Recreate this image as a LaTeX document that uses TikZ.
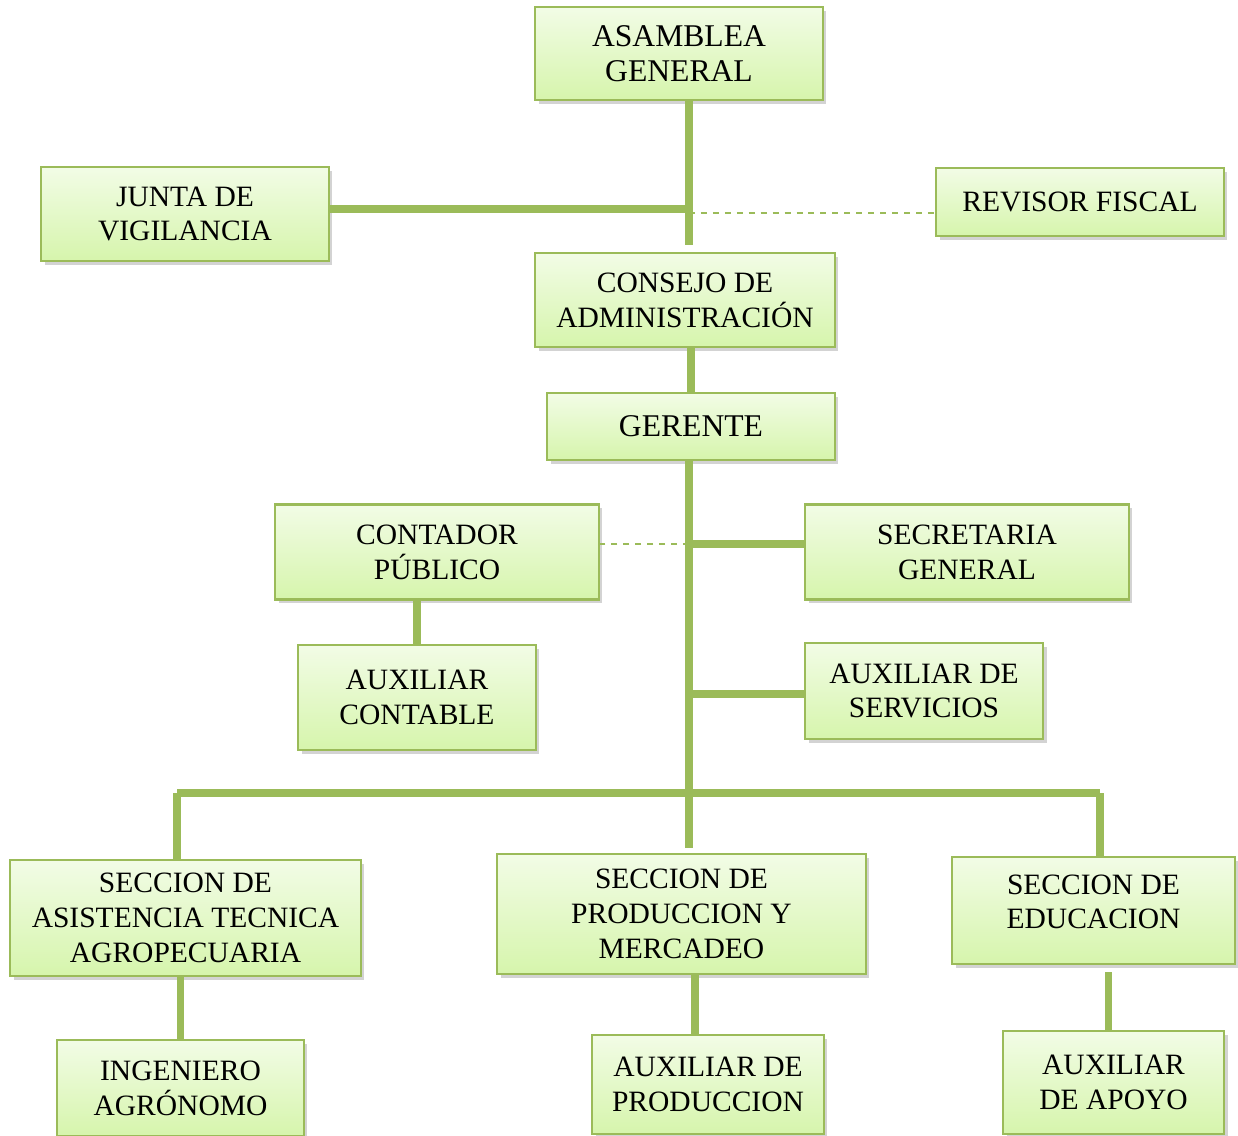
\documentclass[tikz,border=0pt]{standalone}
\usepackage{fontspec}
\setmainfont{Liberation Serif}
\usetikzlibrary{calc,shadows,positioning}
\definecolor{boxtop}{RGB}{242,252,230}
\definecolor{boxbot}{RGB}{214,245,172}
\definecolor{olive}{RGB}{155,187,89}

\begin{document}
\begin{tikzpicture}[
    x=0.02cm, y=-0.02cm,
    box/.style={draw=olive, line width=1.2pt, top color=boxtop, bottom color=boxbot,
        inner sep=0pt, align=center, font=\fontsize{16.8}{19.8}\selectfont,
        drop shadow={shadow xshift=2pt, shadow yshift=-2pt, opacity=0.35}},
    bigtext/.style={font=\fontsize{18}{19.8}\selectfont},
    link/.style={olive, line width=4.5pt},
    dashlink/.style={olive, line width=1pt, dash pattern=on 3.4pt off 3.4pt}
]
    \useasboundingbox (0,0) rectangle (1238,1136);

    % Top level
    \node[box, bigtext, minimum width=5.76cm, minimum height=1.86cm] (asamblea) at (679,53.5) {ASAMBLEA\\GENERAL};
    \node[box, minimum width=5.76cm, minimum height=1.88cm] (junta) at (185,214) {JUNTA DE\\VIGILANCIA};
    \node[box, minimum width=5.76cm, minimum height=1.36cm] (revisor) at (1080,202) {REVISOR FISCAL};
    \node[box, minimum width=6cm, minimum height=1.88cm] (consejo) at (685,300) {CONSEJO DE\\ADMINISTRACIÓN};
    \node[box, bigtext, minimum width=5.76cm, minimum height=1.34cm] (gerente) at (691,426.5) {GERENTE};

    % Staff
    \node[box, minimum width=6.48cm, minimum height=1.9cm] (contador) at (437,552) {CONTADOR\\PÚBLICO};
    \node[box, minimum width=6.48cm, minimum height=1.9cm] (secretaria) at (967,552) {SECRETARIA\\GENERAL};
    \node[box, minimum width=4.76cm, minimum height=2.1cm] (auxcont) at (417,697.5) {AUXILIAR\\CONTABLE};
    \node[box, minimum width=4.76cm, minimum height=1.92cm] (servicios) at (924,691) {AUXILIAR DE\\SERVICIOS};

    % Sections
    \node[box, minimum width=7.02cm, minimum height=2.32cm] (asistencia) at (185.5,918) {SECCION DE\\ASISTENCIA TECNICA\\AGROPECUARIA};
    \node[box, minimum width=7.38cm, minimum height=2.4cm] (produccion) at (681.5,914) {SECCION DE\\PRODUCCION Y\\MERCADEO};
    \node[box, minimum width=5.66cm, minimum height=2.14cm] (educacion) at (1093.5,910.5)
        {SECCION DE\\EDUCACION\rule[-10pt]{0pt}{10pt}};
    \node[box, minimum width=4.94cm, minimum height=1.92cm] (ingeniero) at (180.5,1088) {INGENIERO\\AGRÓNOMO};
    \node[box, minimum width=4.64cm, minimum height=1.98cm] (auxprod) at (708,1084.5) {AUXILIAR DE\\PRODUCCION};
    \node[box, minimum width=4.42cm, minimum height=2.06cm] (apoyo) at (1113.5,1082.5) {AUXILIAR\\DE APOYO};

    % Junction points
    \coordinate (hub1) at (689,209);
    \coordinate (hub1b) at (689,213);
    \coordinate (hub2) at (689,544);
    \coordinate (hub3) at (689,694);
    \coordinate (bus) at (689,793);
    \coordinate (busL) at (177,793);
    \coordinate (busR) at (1100,793);

    % Upper connectors
    \draw[link] (asamblea.south -| hub1) -- ($(hub1 |- consejo.north)+(0,4pt)$);
    \draw[link] (hub1 -| junta.east) -- (hub1);
    \draw[dashlink] (hub1b) -- (hub1b -| revisor.west);
    \draw[link] (consejo.south -| gerente) -- (gerente.north);

    % Gerente trunk
    \draw[link] (gerente.south -| hub2) -- ($(bus |- produccion.north)+(0,3pt)$);
    \draw[link] (hub2) -- (hub2 -| secretaria.west);
    \draw[dashlink] (hub2) -- (hub2 -| contador.east);
    \draw[link] (hub3) -- (hub3 -| servicios.west);
    \draw[link] (auxcont.north |- contador.south) -- (auxcont.north);

    % Bus to sections
    \draw[link] (busL) -- (busR);
    \draw[link] (busL) -- (busL |- asistencia.north);
    \draw[link] (busR) -- (busR |- educacion.north);

    % Sections to assistants
    \draw[link] (ingeniero.north |- asistencia.south) -- (ingeniero.north);
    \coordinate (mp) at ($(produccion.south)!.5!(auxprod.north)$);
    \draw[link] (mp |- produccion.south) -- (mp |- auxprod.north);
    \coordinate (me) at ($(educacion.south)!.75!(apoyo.north)$);
    \draw[link] ($(me |- educacion.south)+(0,-4pt)$) -- (me |- apoyo.north);
\end{tikzpicture}
\end{document}
